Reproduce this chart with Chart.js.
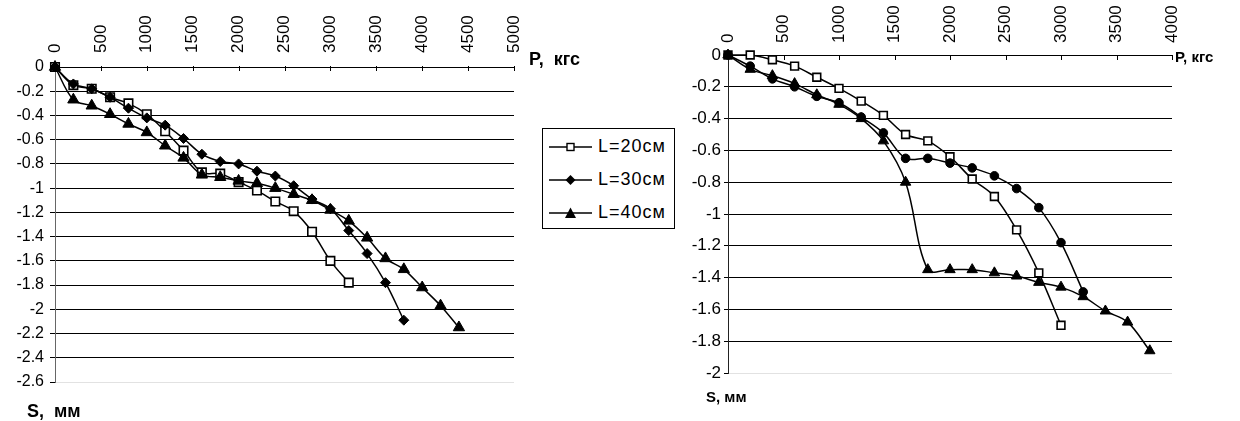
<!DOCTYPE html>
<html>
<head>
<meta charset="utf-8">
<script src="https://cdn.jsdelivr.net/npm/chart.js@4/dist/chart.umd.min.js"></script>
<style>
  body { margin: 0; background: #fff; width: 1240px; height: 421px; position: relative; overflow: hidden;
         font-family: "Liberation Sans", Arial, sans-serif; }
  #leftChart { position: absolute; left: 0; top: 0; }
  #rightChart { position: absolute; left: 680px; top: 0; }
  #legend { position: absolute; left: 542px; top: 128px; width: 131px; height: 99px;
            border: 1px solid #000; background: #fff; }
  #legend .row { height: 33px; display: flex; align-items: center; padding-left: 6px; }
  #legend .row:first-child { margin-top: 1px; }
  #legend svg { width: 43px; height: 14px; margin-right: 6px; }
  #legend span { font-size: 18px; letter-spacing: 1px; color: #000; }
</style>
</head>
<body>
<canvas id="leftChart" width="600" height="421"></canvas>
<div id="legend"></div>
<canvas id="rightChart" width="560" height="421"></canvas>

<script>
// ---------- данные (нагрузка P, кгс / осадка S, мм) ----------
const seriesNames = ["L=20см", "L=30см", "L=40см"];

// левый график
const loadLeft20 = [0, 200, 400, 600, 800, 1000, 1200, 1400, 1600, 1800, 2000, 2200, 2400, 2600, 2800, 3000, 3200];
const settleLeft20 = [0, -0.15, -0.18, -0.25, -0.3, -0.39, -0.53, -0.69, -0.87, -0.88, -0.95, -1.02, -1.11, -1.19, -1.36, -1.6, -1.78];

const loadLeft30 = [0, 200, 400, 600, 800, 1000, 1200, 1400, 1600, 1800, 2000, 2200, 2400, 2600, 2800, 3000, 3200, 3400, 3600, 3800];
const settleLeft30 = [0, -0.14, -0.18, -0.25, -0.34, -0.42, -0.48, -0.59, -0.72, -0.78, -0.8, -0.86, -0.9, -0.98, -1.09, -1.17, -1.35, -1.54, -1.78, -2.09];

const loadLeft40 = [0, 200, 400, 600, 800, 1000, 1200, 1400, 1600, 1800, 2000, 2200, 2400, 2600, 2800, 3000, 3200, 3400, 3600, 3800, 4000, 4200, 4400];
const settleLeft40 = [0, -0.27, -0.32, -0.39, -0.47, -0.54, -0.65, -0.75, -0.89, -0.91, -0.94, -0.96, -1.0, -1.05, -1.1, -1.18, -1.27, -1.41, -1.58, -1.67, -1.82, -1.97, -2.15];

// правый график
const loadRight20 = [0, 200, 400, 600, 800, 1000, 1200, 1400, 1600, 1800, 2000, 2200, 2400, 2600, 2800, 3000];
const settleRight20 = [0, 0, -0.03, -0.07, -0.14, -0.21, -0.29, -0.38, -0.5, -0.54, -0.64, -0.78, -0.89, -1.1, -1.37, -1.7];

const loadRight30 = [0, 200, 400, 600, 800, 1000, 1200, 1400, 1600, 1800, 2000, 2200, 2400, 2600, 2800, 3000, 3200];
const settleRight30 = [0, -0.07, -0.15, -0.2, -0.26, -0.3, -0.39, -0.49, -0.65, -0.65, -0.68, -0.71, -0.76, -0.84, -0.96, -1.18, -1.49];

const loadRight40 = [0, 200, 400, 600, 800, 1000, 1200, 1400, 1600, 1800, 2000, 2200, 2400, 2600, 2800, 3000, 3200, 3400, 3600, 3800];
const settleRight40 = [0, -0.09, -0.13, -0.18, -0.25, -0.31, -0.4, -0.54, -0.8, -1.35, -1.35, -1.35, -1.37, -1.39, -1.43, -1.46, -1.52, -1.61, -1.68, -1.86];

// ---------- вспомогательные функции ----------
function makePoints(xs, ys) {
  return xs.map((x, i) => ({ x: x, y: ys[i] }));
}

function seriesStyle(shape, filled, radius) {
  return {
    borderColor: "#000",
    borderWidth: 1.5,
    pointStyle: shape,
    pointRadius: radius,
    pointHoverRadius: radius,
    pointBackgroundColor: filled ? "#000" : "#fff",
    pointBorderColor: "#000",
    pointBorderWidth: filled ? 1 : 1.6,
    tension: 0.35,
    fill: false,
    clip: false
  };
}

function fmtS(v) {
  const r = Math.round(v * 10) / 10;
  return r === 0 ? "0" : String(r);
}

// засечки оси P внутрь области графика
const innerTicks = {
  id: "innerTicks",
  afterDraw(chart, args, opts) {
    const { ctx, chartArea } = chart;
    const xs = chart.scales.x;
    ctx.save();
    ctx.strokeStyle = "#000";
    ctx.lineWidth = 1;
    xs.ticks.forEach(t => {
      const px = Math.round(xs.getPixelForValue(t.value)) + 0.5;
      ctx.beginPath();
      ctx.moveTo(px, chartArea.top - opts.up);
      ctx.lineTo(px, chartArea.top + opts.down);
      ctx.stroke();
    });
    ctx.restore();
  }
};

// подписи осей "P, кгс" и "S, мм"
const axisNames = {
  id: "axisNames",
  afterDraw(chart, args, opts) {
    const { ctx, chartArea } = chart;
    ctx.save();
    ctx.font = opts.font;
    ctx.fillStyle = "#000";
    ctx.textBaseline = "middle";
    ctx.textAlign = "left";
    ctx.fillText(opts.xText, chartArea.right + opts.xdx, chartArea.top + opts.xdy);
    ctx.fillText(opts.yText, chartArea.left + opts.ydx, chartArea.bottom + opts.ydy);
    ctx.restore();
  }
};

const fontFamily = "'Liberation Sans', Arial, sans-serif";

function buildOptions(cfg) {
  return {
    responsive: false,
    animation: false,
    events: [],
    layout: { padding: cfg.padding },
    plugins: {
      legend: { display: false },
      tooltip: { enabled: false },
      innerTicks: cfg.innerTicks,
      axisNames: cfg.axisNames
    },
    scales: {
      x: {
        type: "linear",
        position: "top",
        min: 0,
        max: cfg.xMax,
        afterFit: s => { s.height = cfg.xHeight; },
        ticks: {
          stepSize: 500,
          autoSkip: false,
          minRotation: 90,
          maxRotation: 90,
          padding: cfg.xPad,
          labelOffset: cfg.xFont * 1.2,   // повернутые подписи сдвигаются влево на высоту строки
          color: "#000",
          font: { family: fontFamily, size: cfg.xFont },
          callback: v => String(v)
        },
        grid: { display: true, drawOnChartArea: false, drawTicks: false },
        border: { display: true, color: "#000", width: 1 }
      },
      y: {
        min: cfg.yMin,
        max: 0,
        afterFit: s => { s.width = cfg.yWidth; },
        ticks: {
          stepSize: 0.2,
          padding: cfg.yPad,
          color: "#000",
          font: { family: fontFamily, size: cfg.yFont },
          callback: v => fmtS(v)
        },
        grid: {
          color: c => (c.tick && c.tick.value < cfg.yMin + 0.01) ? "#e2e2e2" : "#000",
          tickColor: "#000",
          tickLength: cfg.yTick,
          lineWidth: 1
        },
        border: { display: true, color: cfg.yBorder, width: 1 }
      }
    }
  };
}

// ---------- левый график ----------
new Chart(document.getElementById("leftChart"), {
  type: "line",
  data: {
    datasets: [
      Object.assign({ label: seriesNames[0], data: makePoints(loadLeft20, settleLeft20), order: 3 }, seriesStyle("rect", false, 6)),
      Object.assign({ label: seriesNames[1], data: makePoints(loadLeft30, settleLeft30), order: 2 }, seriesStyle("rectRot", true, 5)),
      Object.assign({ label: seriesNames[2], data: makePoints(loadLeft40, settleLeft40), order: 1 }, seriesStyle("triangle", true, 6.5))
    ]
  },
  options: buildOptions({
    padding: { top: 0, left: 0, right: 86, bottom: 39 },
    xMax: 5000, xHeight: 67, xPad: 14, xFont: 17,
    yMin: -2.6, yWidth: 55, yPad: 6, yFont: 16, yTick: 5, yBorder: "#666",
    innerTicks: { up: 1, down: 4 },
    axisNames: { font: "bold 18px " + fontFamily, xText: "P,  кгс", xdx: 15, xdy: -7, yText: "S,  мм", ydx: -28, ydy: 30 }
  }),
  plugins: [innerTicks, axisNames]
});

// ---------- правый график ----------
new Chart(document.getElementById("rightChart"), {
  type: "line",
  data: {
    datasets: [
      Object.assign({ label: seriesNames[0], data: makePoints(loadRight20, settleRight20), order: 3 }, seriesStyle("rect", false, 5.5)),
      Object.assign({ label: seriesNames[1], data: makePoints(loadRight30, settleRight30), order: 2 }, seriesStyle("circle", true, 4.3)),
      Object.assign({ label: seriesNames[2], data: makePoints(loadRight40, settleRight40), order: 1 }, seriesStyle("triangle", true, 6))
    ]
  },
  options: buildOptions({
    padding: { top: 0, left: 0, right: 68, bottom: 48 },
    xMax: 4000, xHeight: 55, xPad: 12, xFont: 17,
    yMin: -2, yWidth: 48, yPad: 3, yFont: 17, yTick: 4, yBorder: "#222",
    innerTicks: { up: 0, down: 5 },
    axisNames: { font: "bold 15px " + fontFamily, xText: "P, кгс", xdx: 3, xdy: 3, yText: "S, мм", ydx: -22, ydy: 25 }
  }),
  plugins: [innerTicks, axisNames]
});

// ---------- легенда ----------
const legendShapes = [
  '<rect x="18" y="3.5" width="7" height="7" fill="#fff" stroke="#000" stroke-width="1.4"/>',
  '<polygon points="21.5,2 26.5,7 21.5,12 16.5,7" fill="#000"/>',
  '<polygon points="21.5,1.5 27,12 16,12" fill="#000"/>'
];
const legendBox = document.getElementById("legend");
seriesNames.forEach((name, i) => {
  const row = document.createElement("div");
  row.className = "row";
  row.innerHTML =
    '<svg viewBox="0 0 43 14"><line x1="0" y1="7" x2="43" y2="7" stroke="#000" stroke-width="1.5"/>' +
    legendShapes[i] + "</svg><span>" + name + "</span>";
  legendBox.appendChild(row);
});
</script>
</body>
</html>
